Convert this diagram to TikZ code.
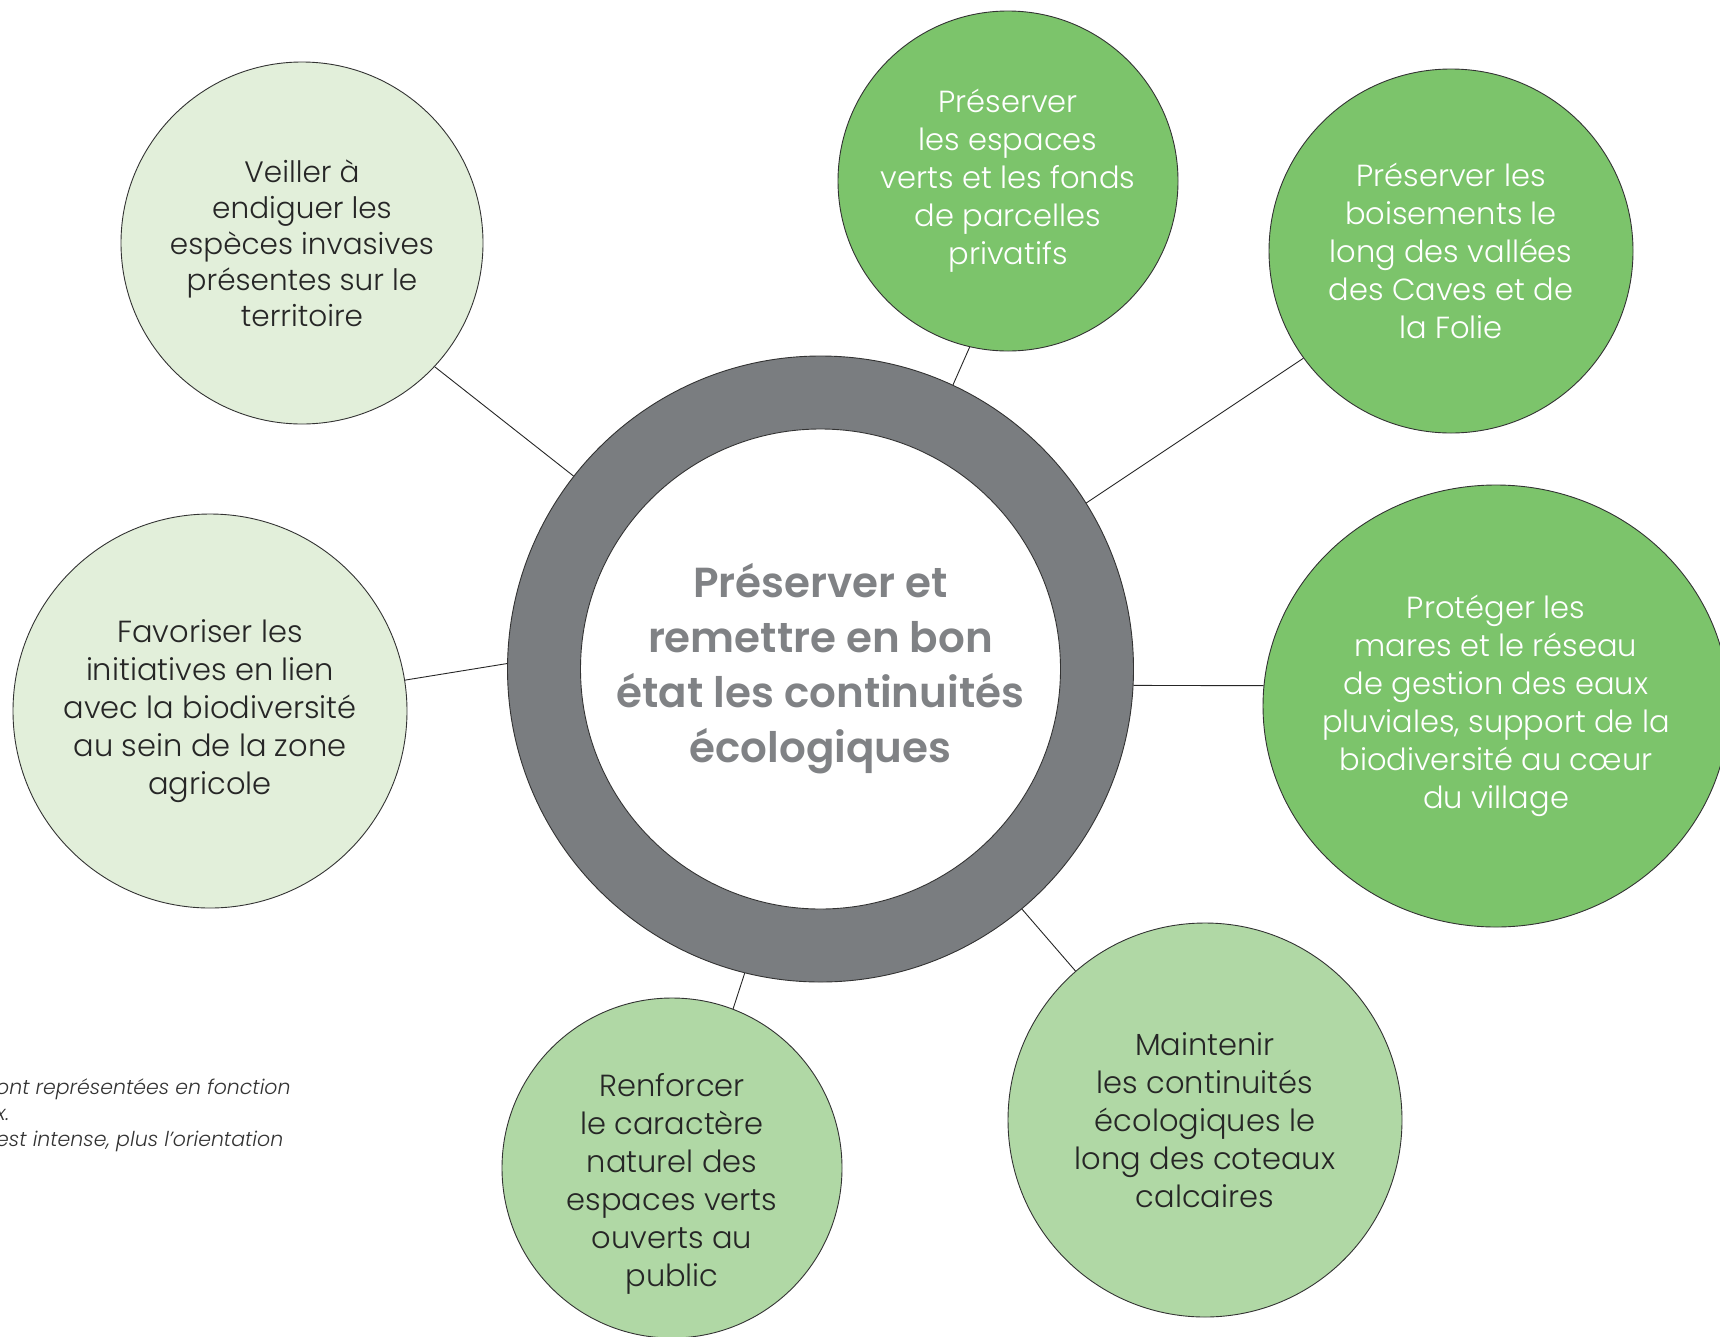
\documentclass[tikz,border=0pt]{standalone}
\usepackage{fontspec}
\setmainfont{Poppins}[UprightFont=* Light, ItalicFont=* Light Italic, BoldFont=* SemiBold]
\usetikzlibrary{shapes.geometric}

\definecolor{ringgray}{HTML}{7A7D80}
\definecolor{coregray}{HTML}{808285}
\definecolor{palegreen}{HTML}{E2EFDA}
\definecolor{midgreen}{HTML}{B0D8A5}
\definecolor{leafgreen}{HTML}{7CC46B}
\definecolor{inktext}{HTML}{262626}
\tikzset{
  goal/.style={circle,draw=black!80,line width=0.9pt,inner sep=0pt,align=center,font=\fontsize{30.5}{38}\selectfont},
  weak/.style={goal,fill=palegreen,text=inktext},
  medium/.style={goal,fill=midgreen,text=inktext},
  strong/.style={goal,fill=leafgreen,text=white},
  link/.style={draw=black!85,line width=0.9pt},
}

\begin{document}
\begin{tikzpicture}[x=1pt,y=-1pt]
      \useasboundingbox (0,0) rectangle (1720,1336);
      \node [circle,fill=ringgray,draw=black!80,line width=0.9pt,inner sep=0pt,minimum size=626pt] (ring) at (820.5,669) {};
      \node [circle,fill=white,draw=black!80,line width=0.9pt,inner sep=0pt,minimum size=480pt,align=center,
             text=coregray,font=\bfseries\fontsize{42}{55}\selectfont] (core) at (ring) {Préserver et\\remettre en bon\\état les continuités\\écologiques};
      \node [weak,minimum size=362pt,font=\fontsize{29.5}{36}\selectfont] (veiller) at (302,243) {Veiller à\\endiguer les\\espèces invasives\\présentes sur le\\territoire};
      \node [weak,minimum size=394pt] (favoriser) at (210,711) {Favoriser les\\initiatives en lien\\avec la biodiversité\\au sein de la zone\\agricole};
      \node [strong,minimum size=340pt] (espaces) at (1008,181) {Préserver\\les espaces\\verts et les fonds\\de parcelles\\privatifs};
      \node [strong,minimum size=364pt] (boisements) at (1451,251) {Préserver les\\boisements le\\long des vallées\\des Caves et de\\la Folie};
      \node [strong,ellipse,inner xsep=-20pt,minimum width=466pt,minimum height=442pt] (mares) at (1496,706) {Protéger les\\mares et le réseau\\de gestion des eaux\\pluviales, support de la\\biodiversité au cœur\\du village};
      \node [medium,minimum size=394pt] (coteaux) at (1205,1120) {Maintenir\\les continuités\\écologiques le\\long des coteaux\\calcaires};
      \node [medium,minimum size=340pt] (renforcer) at (672,1168) {\rule{0pt}{55pt}Renforcer\\le caractère\\naturel des\\espaces verts\\ouverts au\\public};
      \foreach \goal/\from/\to in {veiller/142/-43,favoriser/179/9,espaces/65/257,boisements/32/216,
                                   mares/-3/175,coteaux/-50/131,renforcer/256/69}
      {
        \draw [link] (ring.\from) -- (\goal.\to);
      }
      \node [anchor=north west,align=left,inner sep=0pt,text=black!80,font=\itshape\fontsize{20.5}{26}\selectfont] (note) at (-4,1078)
            {ont représentées en fonction\\x.\\est intense, plus l’orientation};
    \end{tikzpicture}
\end{document}
